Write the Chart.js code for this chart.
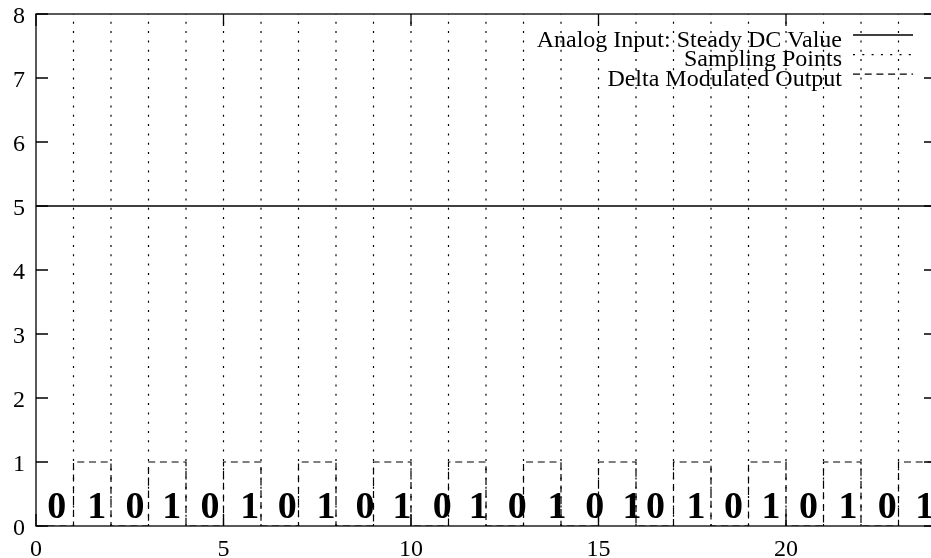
<!DOCTYPE html>
<html>
<head>
<meta charset="utf-8">
<script src="https://cdn.jsdelivr.net/npm/chart.js@4/dist/chart.umd.min.js"></script>
<style>
  html, body { margin: 0; padding: 0; background: #fff; overflow: hidden; }
  canvas { display: block; }
</style>
</head>
<body>
<canvas id="c" width="950" height="558"></canvas>
<script>
// ---- data ----
const dcValue = 5;
const xRange = [0, 24];
const yRange = [0, 8];
const sampleTimes = [1, 2, 3, 4, 5, 6, 7, 8, 9, 10, 11, 12, 13, 14, 15, 16, 17, 18, 19, 20, 21, 22, 23];
const bits = [0, 1, 0, 1, 0, 1, 0, 1, 0, 1, 0, 1, 0, 1, 0, 1, 0, 1, 0, 1, 0, 1, 0, 1];
const bitLabelX = [0.55, 1.62, 2.64, 3.62, 4.64, 5.7, 6.7, 7.73, 8.77, 9.76, 10.83, 11.79,
                   12.83, 13.89, 14.9, 15.89, 16.52, 17.6, 18.6, 19.6, 20.6, 21.65, 22.7, 23.7];
const bitLabelY = 0.12;
const xTickValues = [0, 5, 10, 15, 20];
const yTickValues = [0, 1, 2, 3, 4, 5, 6, 7, 8];
const seriesNames = ['Analog Input: Steady DC Value', 'Sampling Points', 'Delta Modulated Output'];

const SERIF = '"Liberation Serif", "Times New Roman", serif';
const INK = '#000';

// steady DC input across the whole range
const dcPoints = [{ x: xRange[0], y: dcValue }, { x: xRange[1], y: dcValue }];

// one vertical segment per sampling instant, separated by gaps
const samplePoints = [];
sampleTimes.forEach(t => {
  samplePoints.push({ x: t, y: yRange[0] }, { x: t, y: yRange[1] }, { x: t, y: null });
});

// delta-modulated bit stream as a step waveform
const outputPoints = bits.map((b, i) => ({ x: i, y: b }));
outputPoints.push({ x: bits.length, y: bits[bits.length - 1] });

// frame with inward ticks on all four sides
const framePlugin = {
  id: 'frame',
  afterDatasetsDraw(chart) {
    const { ctx, chartArea: a, scales } = chart;
    const len = 12;
    ctx.save();
    ctx.strokeStyle = INK;
    ctx.lineWidth = 1.3;
    ctx.setLineDash([]);
    ctx.strokeRect(a.left, a.top, a.right - a.left, a.bottom - a.top);
    ctx.beginPath();
    xTickValues.forEach(v => {
      const px = scales.x.getPixelForValue(v);
      ctx.moveTo(px, a.bottom); ctx.lineTo(px, a.bottom - len);
      ctx.moveTo(px, a.top); ctx.lineTo(px, a.top + len);
    });
    yTickValues.forEach(v => {
      const py = scales.y.getPixelForValue(v);
      ctx.moveTo(a.left, py); ctx.lineTo(a.left + len, py);
      ctx.moveTo(a.right, py); ctx.lineTo(a.right - len, py);
    });
    ctx.stroke();
    ctx.restore();
  }
};

// bit values written under each interval of the output
const bitLabelPlugin = {
  id: 'bitLabels',
  afterDatasetsDraw(chart) {
    const { ctx, scales } = chart;
    ctx.save();
    ctx.fillStyle = INK;
    ctx.font = 'bold 38px ' + SERIF;
    ctx.textAlign = 'center';
    ctx.textBaseline = 'alphabetic';
    bits.forEach((b, i) => {
      ctx.fillText(String(b), scales.x.getPixelForValue(bitLabelX[i]), scales.y.getPixelForValue(bitLabelY));
    });
    ctx.restore();
  }
};

// key in the upper right: right-aligned text followed by a line sample
const keyPlugin = {
  id: 'key',
  afterDraw(chart) {
    const { ctx } = chart;
    const textRight = 842, x0 = 853, x1 = 913;
    ctx.save();
    ctx.font = '24px ' + SERIF;
    ctx.fillStyle = INK;
    ctx.textAlign = 'right';
    ctx.textBaseline = 'alphabetic';
    chart.data.datasets.forEach((ds, i) => {
      const ly = 35 + 19.6 * i;
      ctx.fillText(ds.label, textRight, ly + 11.5);
      ctx.beginPath();
      ctx.strokeStyle = ds.borderColor;
      ctx.lineWidth = ds.borderWidth;
      ctx.setLineDash(ds.borderDash || []);
      ctx.moveTo(x0, ly); ctx.lineTo(x1, ly);
      ctx.stroke();
    });
    ctx.restore();
  }
};

new Chart(document.getElementById('c'), {
  type: 'line',
  data: {
    datasets: [
      {
        label: seriesNames[0],
        data: dcPoints,
        borderColor: INK,
        borderWidth: 1.5,
        pointRadius: 0
      },
      {
        label: seriesNames[1],
        data: samplePoints,
        borderColor: INK,
        borderWidth: 1.2,
        borderDash: [2, 7.3],
        pointRadius: 0,
        spanGaps: false
      },
      {
        label: seriesNames[2],
        data: outputPoints,
        borderColor: INK,
        borderWidth: 1.2,
        borderDash: [7, 4.7],
        stepped: 'before',
        pointRadius: 0
      }
    ]
  },
  options: {
    responsive: false,
    animation: false,
    events: [],
    layout: { padding: { left: 0, right: 14, top: 14, bottom: 0 } },
    plugins: { legend: { display: false }, tooltip: { enabled: false } },
    scales: {
      x: {
        type: 'linear',
        min: xRange[0],
        max: xRange[1],
        border: { display: false },
        grid: { display: false, drawTicks: false },
        afterFit(s) { s.height = 32; s.paddingLeft = 0; s.paddingRight = 0; },
        afterBuildTicks(s) { s.ticks = xTickValues.map(v => ({ value: v })); },
        ticks: {
          color: INK,
          font: { family: SERIF, size: 24 },
          padding: 9,
          maxRotation: 0,
          autoSkip: false,
          includeBounds: false
        }
      },
      y: {
        type: 'linear',
        min: yRange[0],
        max: yRange[1],
        border: { display: false },
        grid: { display: false, drawTicks: false },
        afterFit(s) { s.width = 36; s.paddingTop = 0; s.paddingBottom = 0; },
        afterBuildTicks(s) { s.ticks = yTickValues.map(v => ({ value: v })); },
        ticks: {
          color: INK,
          font: { family: SERIF, size: 24 },
          padding: 11,
          labelOffset: 3,
          autoSkip: false
        }
      }
    }
  },
  plugins: [framePlugin, bitLabelPlugin, keyPlugin]
});
</script>
</body>
</html>
